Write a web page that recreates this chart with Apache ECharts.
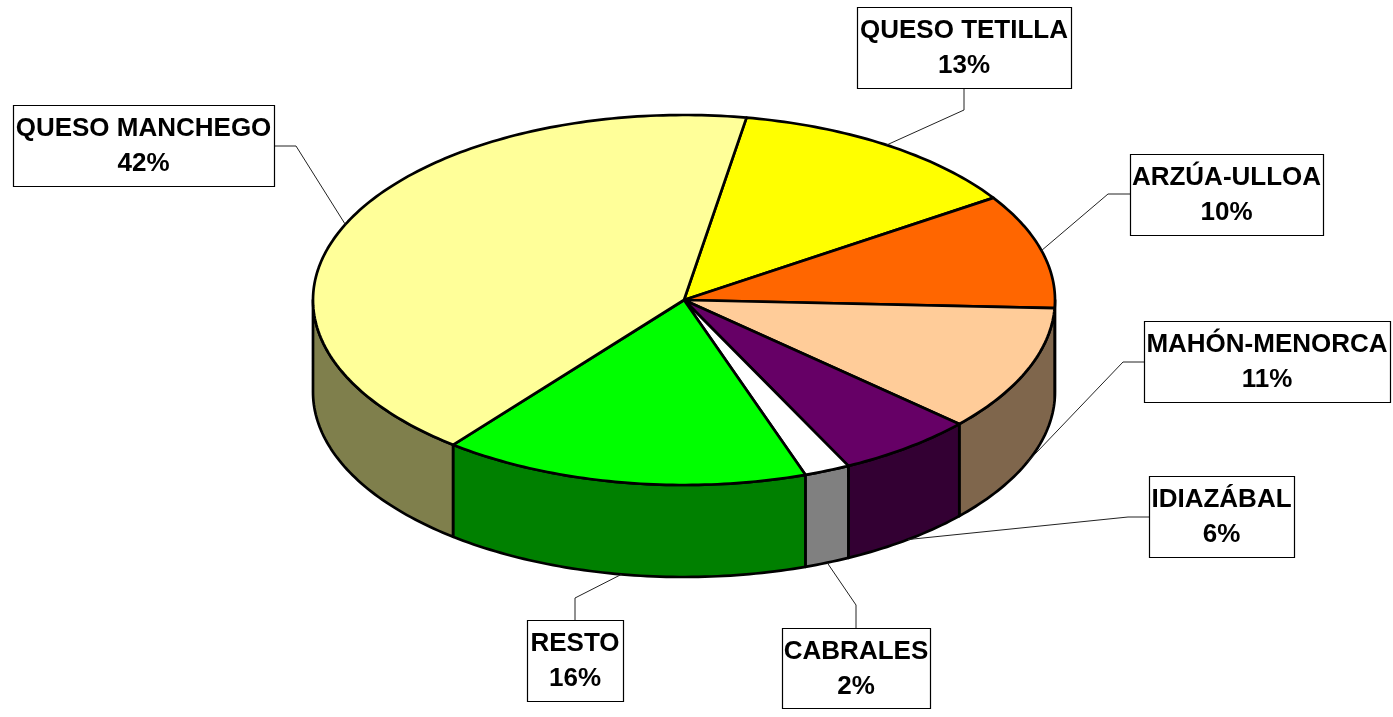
<!DOCTYPE html>
<html>
<head>
<meta charset="utf-8">
<title>Quesos</title>
<script src="https://cdn.jsdelivr.net/npm/echarts@6/dist/echarts.min.js"></script>
<style>
    html, body { margin: 0; padding: 0; background: #fff; }
    #chart { width: 1393px; height: 717px; }
</style>
</head>
<body>
<div id="chart"></div>
<script>
// slices in clockwise order, starting at the top
var names = ['QUESO TETILLA', 'ARZÚA-ULLOA', 'MAHÓN-MENORCA', 'IDIAZÁBAL', 'CABRALES', 'RESTO', 'QUESO MANCHEGO'];
var values = [13, 10, 11, 6, 2, 16, 42];
var topColors = ['#FFFF00', '#FF6600', '#FFCC99', '#660066', '#FFFFFF', '#00FF00', '#FFFF99'];
var sideColors = ['#7F7F00', '#7F3300', '#7F664C', '#330033', '#808080', '#008000', '#7F7F4C'];

// label boxes [x, y, w, h] and the elbow of the leader line [boxX, boxY, elbowX, elbowY]
var labelBoxes = [[857, 7, 214, 81], [1130, 154, 193, 81], [1144, 321, 246, 81], [1149, 476, 145, 81], [782, 628, 148, 80], [527, 620, 96, 81], [13, 105, 261, 81]];
var leaderElbows = [[964, 88, 964, 110], [1130, 194, 1108, 194], [1144, 362, 1123, 362], [1149, 517, 1128, 517], [856, 628, 856, 605], [575, 620, 575, 598], [274, 146, 296, 146]];

var cx = 684, cy = 300, rx = 371, ry = 185, depth = 92;
var startAngle = 80.3;

var total = 0;
for (var i = 0; i < values.length; i++) total += values[i];

// start / end angle of every slice (degrees, counted clockwise)
var angles = [];
var acc = startAngle;
for (var i = 0; i < values.length; i++) {
    var sweep = values[i] / total * 360;
    angles.push([acc, acc - sweep]);
    acc -= sweep;
}

function pt(deg, dy) {
    var r = deg * Math.PI / 180;
    return [cx + rx * Math.cos(r), cy - ry * Math.sin(r) + (dy || 0)];
}

function arc(from, to, dy) {
    var pts = [];
    var n = Math.max(2, Math.ceil(Math.abs(from - to)));
    for (var k = 0; k <= n; k++) {
        pts.push(pt(from + (to - from) * k / n, dy));
    }
    return pts;
}

function renderSlice(params, api) {
    var i = params.dataIndex;
    var a0 = angles[i][0], a1 = angles[i][1];
    var children = [];
    // visible side wall (front half of the disc)
    [-360, 0, 360].forEach(function(k) {
        var hi = Math.min(a0, k), lo = Math.max(a1, k - 180);
        if (hi <= lo) return;
        var pts = arc(hi, lo, 0).concat(arc(lo, hi, depth));
        children.push({
            type: 'polygon',
            shape: {points: pts},
            style: {fill: sideColors[i], stroke: '#000', lineWidth: 2.7, lineJoin: 'round'}
        });
    });
    // top face
    var top = [[cx, cy]].concat(arc(a0, a1, 0));
    children.push({
        type: 'polygon',
        shape: {points: top},
        style: {fill: topColors[i], stroke: '#000', lineWidth: 2.7, lineJoin: 'round'}
    });
    return {type: 'group', children: children};
}

function renderLabel(params, api) {
    var i = params.dataIndex;
    var mid = (angles[i][0] + angles[i][1]) / 2;
    var s = Math.sin(mid * Math.PI / 180);
    // front slices point at the bottom edge, back ones at the top edge
    var anchor = pt(mid, s < 0 ? depth : 0);
    var b = labelBoxes[i], e = leaderElbows[i];
    var pct = Math.round(values[i] / total * 100) + '%';
    return {
        type: 'group',
        children: [{
            type: 'polyline',
            shape: {points: [[e[0], e[1]], [e[2], e[3]], anchor]},
            style: {stroke: '#222', lineWidth: 1, fill: null}
        }, {
            type: 'rect',
            shape: {x: b[0] + 0.5, y: b[1] + 0.5, width: b[2], height: b[3]},
            style: {fill: '#fff', stroke: '#000', lineWidth: 1.2}
        }, {
            type: 'text',
            style: {
                text: names[i] + '\n' + pct,
                x: b[0] + b[2] / 2,
                y: b[1] + b[3] / 2 + 1,
                align: 'center',
                verticalAlign: 'middle',
                font: 'bold 26px "Liberation Sans", Arial, sans-serif',
                lineHeight: 35,
                fill: '#000'
            }
        }]
    };
}

var chart = echarts.init(document.getElementById('chart'));
var seriesData = values.map(function(v, i) { return {name: names[i], value: v}; });
var option = {
    backgroundColor: '#fff',
    animation: false,
    series: [{
        type: 'custom',
        coordinateSystem: 'none',
        renderItem: renderSlice,
        data: seriesData,
        silent: true,
        z: 1
    }, {
        type: 'custom',
        coordinateSystem: 'none',
        renderItem: renderLabel,
        data: seriesData,
        silent: true,
        z: 2
    }]
};
chart.setOption(option);
</script>
</body>
</html>
